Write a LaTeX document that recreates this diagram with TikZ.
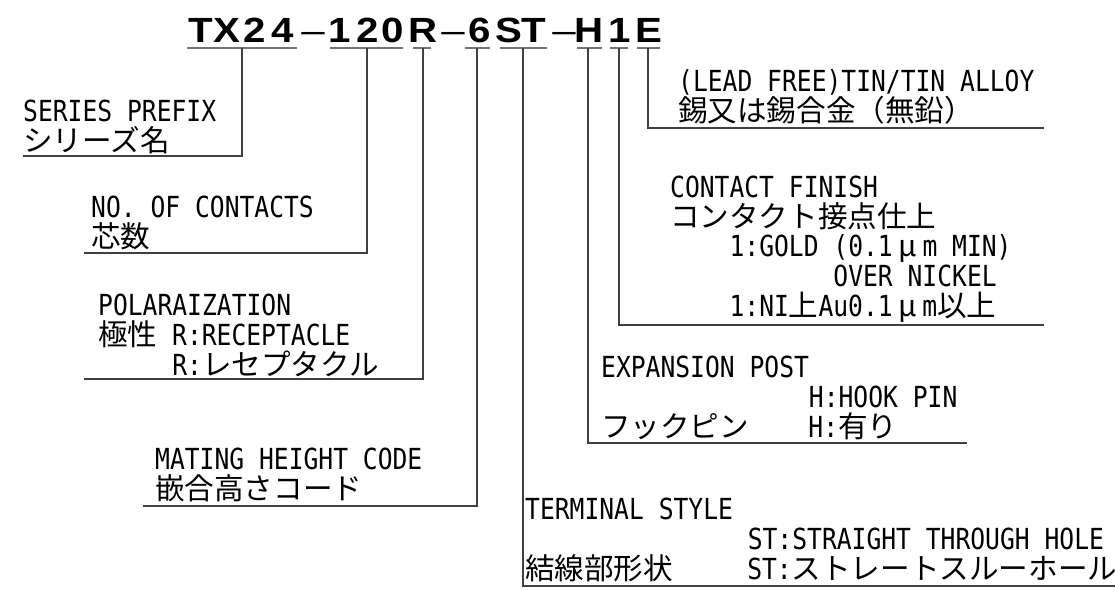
\documentclass[tikz,border=0pt]{standalone}
\usepackage{fontspec}
\setmainfont[FakeStretch=0.85]{DejaVu Sans Mono}
\newfontfamily\jpfont[Scale=1.02]{Noto Sans CJK JP}
\newfontfamily\pnfont[FakeStretch=1.15]{Liberation Sans}
\newfontfamily\pndashfont[FakeStretch=1.2]{Liberation Sans}

\newlength{\hw}
\newcommand{\descfont}{\fontsize{29}{29.6}\selectfont\lineskiplimit=-100pt\lineskip=0pt\settowidth{\hw}{0}}
\newcommand{\jp}[1]{{\jpfont #1}}
\newcommand{\cells}[1]{\hspace*{#1\hw}}
\newcommand{\mum}{\makebox[2\hw]{\jpfont μ}}

\tikzset{
  desc/.style={anchor=base west, align=left, inner sep=0pt, font=\descfont},
  pnchar/.style={anchor=base, inner sep=0pt, font=\pnfont\bfseries\fontsize{35}{35}\selectfont},
  pndash/.style={anchor=base, inner sep=0pt, font=\pndashfont\fontsize{35}{35}\selectfont},
  lead/.style={line width=1.2pt, black!75},
  uline/.style={line width=2pt, black!55}
}

\begin{document}
\begin{tikzpicture}[x=1pt, y=-1pt]
    \useasboundingbox (0,0) rectangle (1115,590);

    % part number
    \foreach \ch/\x [count=\i] in {T/201, X/227, 2/255, 4/283, 1/340, 2/368, 0/393, R/423, 6/480, S/509, T/534, H/589, 1/620, E/649}
        \node (pn\i) [pnchar] at (\x,42) {\ch};
    \foreach \x [count=\i] in {313, 453, 564}
        \node (dash\i) [pndash] at (\x,42) {\textendash};

    \foreach \a/\b in {187/297, 330/403, 413/431, 465/490, 500/547, 577/602, 610/628, 637/660}
        \draw [uline] (\a,48) -- (\b,48);

    \coordinate (tx) at (242,48);
    \coordinate (nc) at (367,48);
    \coordinate (pol) at (423,48);
    \coordinate (mh) at (477,48);
    \coordinate (ts) at (523,48);
    \coordinate (ep) at (588,48);
    \coordinate (cf) at (619,48);
    \coordinate (lf) at (648,48);

    % descriptions (placed at the baseline of their last line)
    \node (tx-desc) [desc] at (23,151) {SERIES PREFIX\\\jp{シリーズ名}};
    \node (nc-desc) [desc] at (91,247) {NO. OF CONTACTS\\\jp{芯数}};
    \node (pol-desc) [desc] at (98,375) {POLARAIZATION\\\jp{極性} R:RECEPTACLE\\\cells{5}R:\jp{レセプタクル}};
    \node (mh-desc) [desc] at (155,499) {MATING HEIGHT CODE\\\jp{嵌合高さコード}};

    \node (lf-desc) [desc] at (678,121) {(LEAD FREE)TIN/TIN ALLOY\\\jp{錫又は錫合金（無鉛）}};
    \node (cf-desc) [desc] at (670,316) {CONTACT FINISH\\\jp{コンタクト接点仕上}\\\cells{4}1:GOLD (0.1\mum m MIN)\\\cells{11}OVER NICKEL\\\cells{4}1:NI\jp{上}Au0.1\mum m\jp{以上}};
    \node (ep-desc) [desc] at (601,437) {EXPANSION POST\\\cells{14}H:HOOK PIN\\\jp{フックピン}\cells{4}H:\jp{有り}};
    \node (ts-desc) [desc] at (525,579) {TERMINAL STYLE\\\cells{15}ST:STRAIGHT THROUGH HOLE\\\jp{結線部形状}\cells{5}ST:\jp{ストレートスルーホール}};

    \coordinate (tx-end) at (23,156);
    \coordinate (nc-end) at (84,253);
    \coordinate (pol-end) at (84,379);
    \coordinate (mh-end) at (143,506);
    \coordinate (ts-end) at (1115,586);
    \coordinate (ep-end) at (967,443);
    \coordinate (cf-end) at (1044,325);
    \coordinate (lf-end) at (1044,128);

    \draw [lead] (tx) |- (tx-end);
    \draw [lead] (nc) |- (nc-end);
    \draw [lead] (pol) |- (pol-end);
    \draw [lead] (mh) |- (mh-end);
    \draw [lead] (ts) |- (ts-end);
    \draw [lead] (ep) |- (ep-end);
    \draw [lead] (cf) |- (cf-end);
    \draw [lead] (lf) |- (lf-end);
\end{tikzpicture}
\end{document}
